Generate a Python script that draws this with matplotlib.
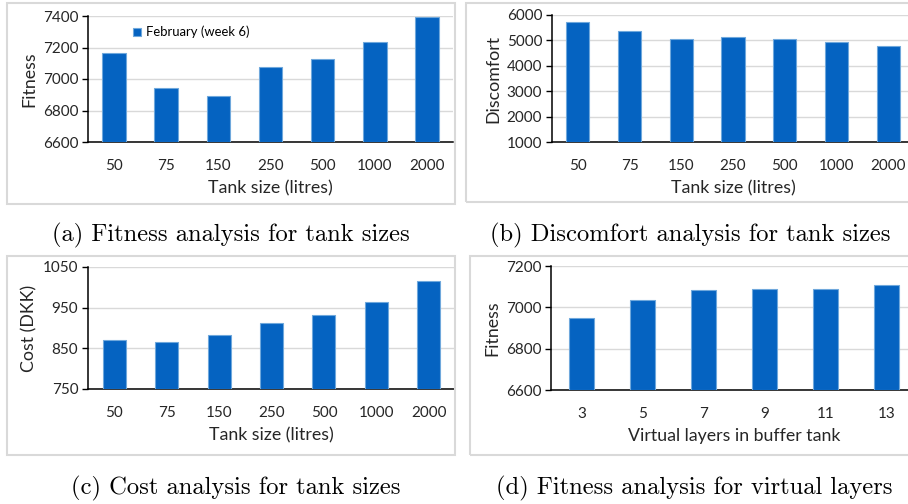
import numpy as np
import matplotlib.pyplot as plt
from matplotlib.patches import Rectangle

# Datos de las cuatro graficas
tank_sizes = ['50', '75', '150', '250', '500', '1000', '2000']
fitness_tank = [7168, 6946, 6894, 7076, 7126, 7234, 7393]
discomfort_tank = [5735, 5367, 5063, 5142, 5063, 4956, 4774]
cost_tank = [870, 865, 884, 913, 932, 965, 1016]
layers = ['3', '5', '7', '9', '11', '13']
fitness_layers = [6949, 7037, 7084, 7088, 7088, 7107]

W, H = 908, 504
BAR = '#0563c1'
EDGE = '#6fa8dc'
GRID = '#d9d9d9'
FONT = ['Lato', 'DejaVu Sans']

fig = plt.figure(figsize=(W / 100, H / 100), dpi=100)


def px_axes(left, top, right, bottom):
    return fig.add_axes([left / W, 1 - bottom / H, (right - left) / W, (bottom - top) / H])


def panel_box(left, top, right, bottom):
    fig.patches.append(Rectangle((left / W, 1 - bottom / H), (right - left) / W, (bottom - top) / H,
                                 transform=fig.transFigure, fill=False, edgecolor=GRID, lw=1.5))


def bar_chart(ax, cats, vals, width, ylim, yticks, ylabel, xlabel):
    x = np.arange(len(cats))
    bars = ax.bar(x, [v - ylim[0] for v in vals], width=width, bottom=ylim[0],
                  color=BAR, edgecolor=EDGE, lw=0.8, zorder=3)
    ax.set_xlim(-0.5, len(cats) - 0.5)
    ax.set_ylim(*ylim)
    ax.set_yticks(yticks)
    ax.set_xticks(x)
    ax.set_xticklabels(cats, fontsize=11, family=FONT)
    for lab in ax.get_yticklabels():
        lab.set_fontsize(11)
        lab.set_family(FONT)
    ax.tick_params(axis='x', length=0, pad=12.5, labelcolor='#262626')
    ax.tick_params(axis='y', length=4, width=1, direction='out', pad=3,
                   colors='black', labelcolor='#262626')
    ax.yaxis.grid(True, color=GRID, lw=1, zorder=0)
    ax.set_axisbelow(True)
    for s in ['top', 'right']:
        ax.spines[s].set_visible(False)
    for s in ['left', 'bottom']:
        ax.spines[s].set_color('black')
        ax.spines[s].set_linewidth(1.1)
    ax.set_ylabel(ylabel, fontsize=12.8, family=FONT, color='#262626', labelpad=4)
    ax.set_xlabel(xlabel, fontsize=12.8, family=FONT, color='#262626', labelpad=5)
    return bars


# Cajas de cada panel
panel_box(7, 3, 455, 204)
panel_box(466, 3, 915, 202)
panel_box(7, 256, 455, 455)
panel_box(470, 256, 915, 455)

# (a) Fitness vs tamano de tanque
ax1 = px_axes(88, 16, 453, 142)
b1 = bar_chart(ax1, tank_sizes, fitness_tank, 0.45, (6600, 7400), [6600, 6800, 7000, 7200, 7400],
               'Fitness', 'Tank size (litres)')
ax1.legend([b1], ['February (week 6)'], loc='center left', bbox_to_anchor=(121 / W, 1 - 32 / H),
           bbox_transform=fig.transFigure, frameon=False, handlelength=0.6, handleheight=0.6,
           handletextpad=0.4, prop={'family': FONT, 'size': 9.4})

# (b) Discomfort
ax2 = px_axes(552, 15, 914, 142)
bar_chart(ax2, tank_sizes, discomfort_tank, 0.45, (1000, 6000), [1000, 2000, 3000, 4000, 5000, 6000],
          'Discomfort', 'Tank size (litres)')

# (c) Cost
ax3 = px_axes(88, 267, 455, 389)
bar_chart(ax3, tank_sizes, cost_tank, 0.44, (750, 1050), [750, 850, 950, 1050],
          'Cost (DKK)', 'Tank size (litres)')

# (d) Virtual layers
ax4 = px_axes(551, 266, 917, 390)
bar_chart(ax4, layers, fitness_layers, 0.41, (6600, 7200), [6600, 6800, 7000, 7200],
          'Fitness', 'Virtual layers in buffer tank')

# Captions
captions = [(231, 235, '(a) Fitness analysis for tank sizes'),
            (690, 235, '(b) Discomfort analysis for tank sizes'),
            (236, 488, '(c) Cost analysis for tank sizes'),
            (694, 488, '(d) Fitness analysis for virtual layers')]
for cx, cy, txt in captions:
    fig.text(cx / W, 1 - cy / H, txt, ha='center', va='center', fontsize=17.7, family='cmr10')

fig.savefig('out.png', dpi=100)
